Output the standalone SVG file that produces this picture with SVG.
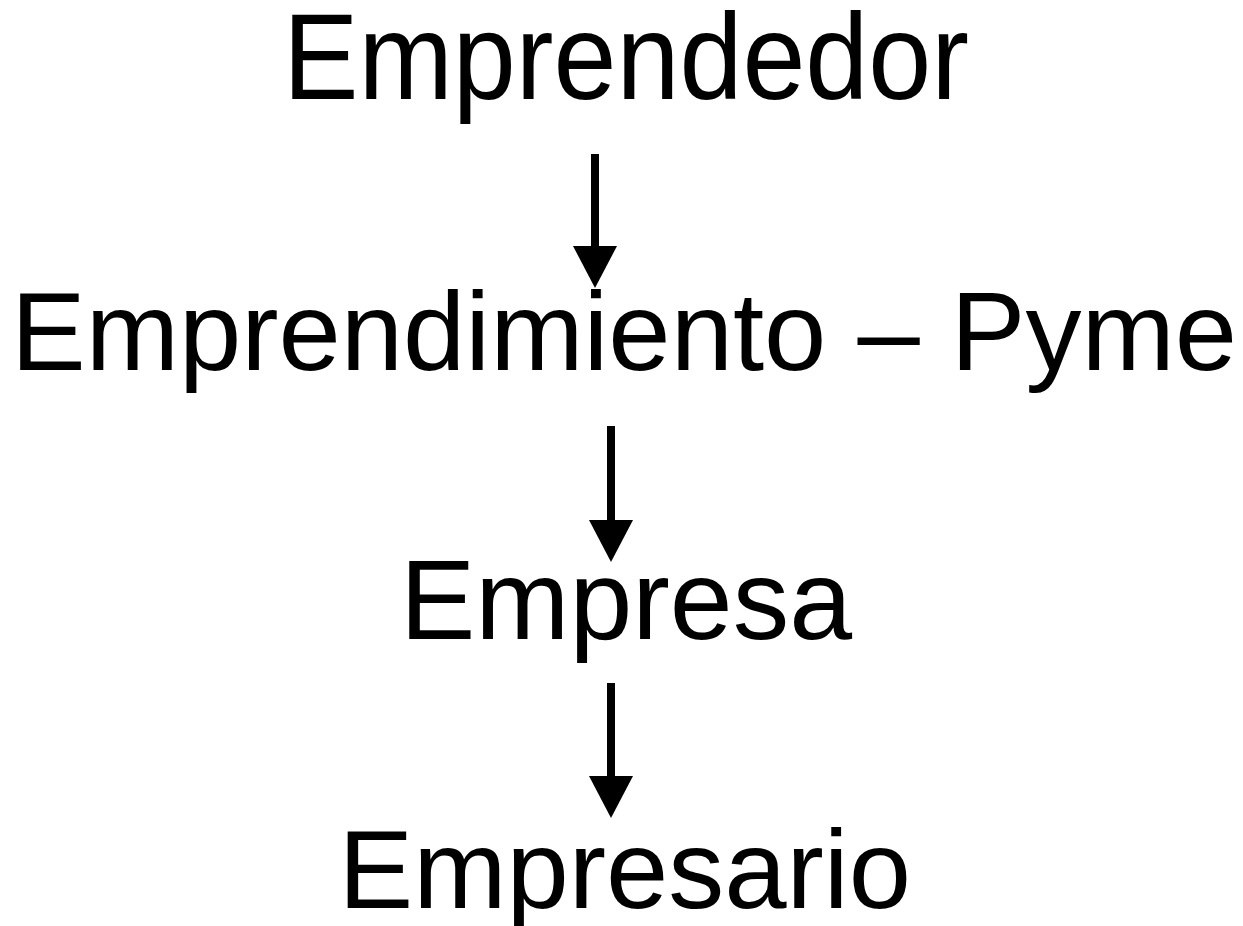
<svg xmlns="http://www.w3.org/2000/svg" width="1243" height="926" viewBox="0 0 1243 926">
  <style>
    .lbl { font-family: "Liberation Sans", Arial, sans-serif; fill: #000; }
    .conn { stroke: #000; stroke-width: 8; fill: none; }
  </style>
  <defs>
    <marker id="head" markerUnits="userSpaceOnUse" markerWidth="42" markerHeight="44" viewBox="0 0 42 44" refX="0" refY="22" orient="auto">
      <path d="M0,0 L42,22 L0,44 Z" fill="#000"/>
    </marker>
  </defs>
  <rect width="1243" height="926" fill="#fff"/>
  <g id="node-emprendedor">
    <text class="lbl" x="283" y="99" font-size="123" textLength="686" lengthAdjust="spacingAndGlyphs">Emprendedor</text>
  </g>
  <g id="node-emprendimiento">
    <text class="lbl" x="11" y="370" font-size="112" textLength="1226" lengthAdjust="spacingAndGlyphs">Emprendimiento – Pyme</text>
  </g>
  <g id="node-empresa">
    <text class="lbl" x="400" y="639" font-size="113" textLength="452" lengthAdjust="spacingAndGlyphs">Empresa</text>
  </g>
  <g id="node-empresario">
    <text class="lbl" x="338.5" y="907.5" font-size="112" textLength="572.5" lengthAdjust="spacingAndGlyphs">Empresario</text>
  </g>
  <g id="connectors">
    <line class="conn" x1="595" y1="154" x2="595" y2="246" marker-end="url(#head)"/>
    <line class="conn" x1="611" y1="426" x2="611" y2="520" marker-end="url(#head)"/>
    <line class="conn" x1="611" y1="683" x2="611" y2="776" marker-end="url(#head)"/>
  </g>
</svg>
